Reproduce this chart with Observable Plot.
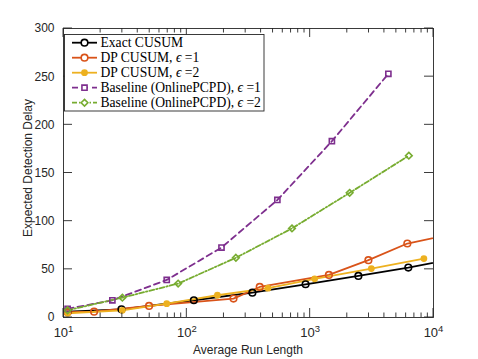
<!DOCTYPE html>
<html><head><meta charset="utf-8">
<script src="https://cdn.jsdelivr.net/npm/d3@7"></script>
<script src="https://cdn.jsdelivr.net/npm/@observablehq/plot@0.6"></script>
<style>body{margin:0;background:#fff}#chart{width:478px;height:359px}</style>
</head><body><div id="chart"></div>
<script>
// ---- data ----
const exactX = [10.8, 29.5, 114, 340, 918, 2460, 6250, 15000];
const exactY = [6.0, 8.5, 17.9, 25.8, 34.5, 43.2, 51.8, 61.0];
const dp1X = [10.8, 17.7, 49.4, 239, 390, 1419, 2966, 6136, 12500];
const dp1Y = [5.5, 6.0, 12.0, 19.6, 31.7, 44.2, 59.5, 76.8, 85.0];
const dp2X = [10.8, 30, 68.7, 177, 455, 1087, 3133, 8357];
const dp2Y = [4.4, 7.5, 14.4, 23.1, 30.4, 40.1, 50.8, 61.2];
const base1X = [10.8, 24.9, 68.7, 191, 542, 1500, 4306];
const base1Y = [9.0, 17.9, 39.0, 72.6, 122, 183, 253];
const base2X = [10.8, 30, 85, 250, 712, 2090, 6310];
const base2Y = [7.5, 20.6, 35.2, 62.0, 92.5, 129.4, 168];
const seriesNames = ["Exact CUSUM", "DP CUSUM, ", "DP CUSUM, ", "Baseline (OnlinePCPD), ", "Baseline (OnlinePCPD), "];
const seriesEps = [null, "=1", "=2", "=1", "=2"];
const yTicks = [0, 50, 100, 150, 200, 250, 300];
const xMajor = [10, 100, 1000, 10000];
const xExp = ["1", "2", "3", "4"];
const xMinor = [20,30,40,50,60,70,80,90,200,300,400,500,600,700,800,900,2000,3000,4000,5000,6000,7000,8000,9000];
const xLabel = "Average Run Length";
const yLabel = "Expected Detection Delay";

// ---- styles ----
const styles = [
  {color:"#000000", dash:null, symbol:"circle", fill:"none", r:3.3},
  {color:"#D95319", dash:null, symbol:"circle", fill:"none", r:3.3},
  {color:"#EDB120", dash:null, symbol:"circle", fill:"#EDB120", r:2.6},
  {color:"#7E2F8E", dash:"6,4", symbol:"square", fill:"none", r:2.9},
  {color:"#77AC30", dash:"5,2,1.5,2", symbol:"diamond2", fill:"none", r:3.0}
];
const xs = [exactX, dp1X, dp2X, base1X, base2X];
const ys = [exactY, dp1Y, dp2Y, base1Y, base2Y];
const series = xs.map((X, i) => X.map((x, j) => ({x, y: ys[i][j], s: i})));

const marks = [];
series.forEach((d, i) => {
  const st = styles[i];
  marks.push(Plot.line(d, {x:"x", y:"y", stroke: st.color, strokeWidth: 1.8,
    strokeDasharray: st.dash || undefined, clip: true}));
});
series.forEach((d, i) => {
  const st = styles[i];
  marks.push(Plot.dot(d, {x:"x", y:"y", stroke: st.color, fill: st.fill, r: st.r,
    symbol: st.symbol, strokeWidth: 1.6, clip: true}));
});

const chart = Plot.plot({
  width: 478, height: 359,
  marginLeft: 63, marginRight: 45, marginTop: 28, marginBottom: 42,
  style: {fontFamily: "'Liberation Sans', Arial, sans-serif", fontSize: "12px", color: "#262626", background: "#fff"},
  x: {type: "log", domain: [10, 10000]},
  y: {domain: [0, 300]},
  marks: [
    Plot.axisY(yTicks, {tickSize: 0, tickPadding: 9, label: null, fill: "#262626"}),
    Plot.axisX(xMajor, {tickSize: 0, tickPadding: 11, label: null, tickFormat: d => String(d), fill: "#262626"}),
    ...marks,
    Plot.frame({stroke: "#262626", strokeWidth: 0.9})
  ]
});
document.getElementById("chart").appendChild(chart);

const svg = d3.select(chart);
const sx = chart.scale("x"), sy = chart.scale("y");
const x0 = sx.apply(10), x1 = sx.apply(10000), y0 = sy.apply(0), y1 = sy.apply(300);
const g = svg.append("g").attr("stroke", "#262626").attr("stroke-width", 0.9);
// y ticks (inward, both sides)
yTicks.forEach(t => {
  const y = sy.apply(t);
  g.append("line").attr("x1", x0).attr("x2", x0 + 9).attr("y1", y).attr("y2", y);
  g.append("line").attr("x1", x1).attr("x2", x1 - 9).attr("y1", y).attr("y2", y);
});
xMajor.forEach(t => {
  const x = sx.apply(t);
  g.append("line").attr("x1", x).attr("x2", x).attr("y1", y0).attr("y2", y0 - 9);
  g.append("line").attr("x1", x).attr("x2", x).attr("y1", y1).attr("y2", y1 + 9);
});
xMinor.forEach(t => {
  const x = sx.apply(t);
  g.append("line").attr("x1", x).attr("x2", x).attr("y1", y0).attr("y2", y0 - 4.5);
  g.append("line").attr("x1", x).attr("x2", x).attr("y1", y1).attr("y2", y1 + 4.5);
});

// superscript x tick labels
svg.selectAll("g[aria-label='x-axis tick label'] text").each(function(d, i) {
  const t = d3.select(this);
  const idx = xMajor.indexOf(+t.text());
  t.text(null);
  t.append("tspan").attr("font-size", "13px").text("10");
  t.append("tspan").attr("dy", "-0.55em").attr("font-size", "9.5px").text(xExp[idx]);
});

// axis titles
svg.append("text").attr("x", (x0 + x1) / 2).attr("y", 354).attr("text-anchor", "middle")
  .attr("fill", "#262626").attr("font-size", "12px").text(xLabel);
svg.append("text").attr("transform", `translate(32,168) rotate(-90)`).attr("text-anchor", "middle")
  .attr("fill", "#262626").attr("font-size", "12px").text(yLabel);

// legend
const lg = svg.append("g").attr("font-family", "'Liberation Serif', 'Times New Roman', serif")
  .attr("font-size", "13.6px").attr("text-anchor", "start");
lg.append("rect").attr("x", 64.5).attr("y", 34.5).attr("width", 199.5).attr("height", 76.5)
  .attr("fill", "#fff").attr("stroke", "#262626").attr("stroke-width", 0.9);
const symMap = {circle: d3.symbolCircle, square: d3.symbolSquare, diamond2: d3.symbolDiamond2};
seriesNames.forEach((name, i) => {
  const st = styles[i];
  const y = 42.7 + i * 15;
  lg.append("line").attr("x1", 72).attr("x2", 97).attr("y1", y).attr("y2", y)
    .attr("stroke", st.color).attr("stroke-width", 1.8).attr("stroke-dasharray", st.dash);
  lg.append("path").attr("d", d3.symbol(symMap[st.symbol], Math.PI * st.r * st.r)())
    .attr("transform", `translate(84.5,${y})`).attr("stroke", st.color).attr("stroke-width", 1.6)
    .attr("fill", st.fill === "none" ? "#fff" : st.fill);
  const t = lg.append("text").attr("x", 100.5).attr("y", y + 4.5).attr("fill", "#000");
  t.append("tspan").text(name);
  if (seriesEps[i]) {
    t.append("tspan").attr("font-style", "italic").text("\u03F5");
    t.append("tspan").text(" " + seriesEps[i]);
  }
});
</script></body></html>
